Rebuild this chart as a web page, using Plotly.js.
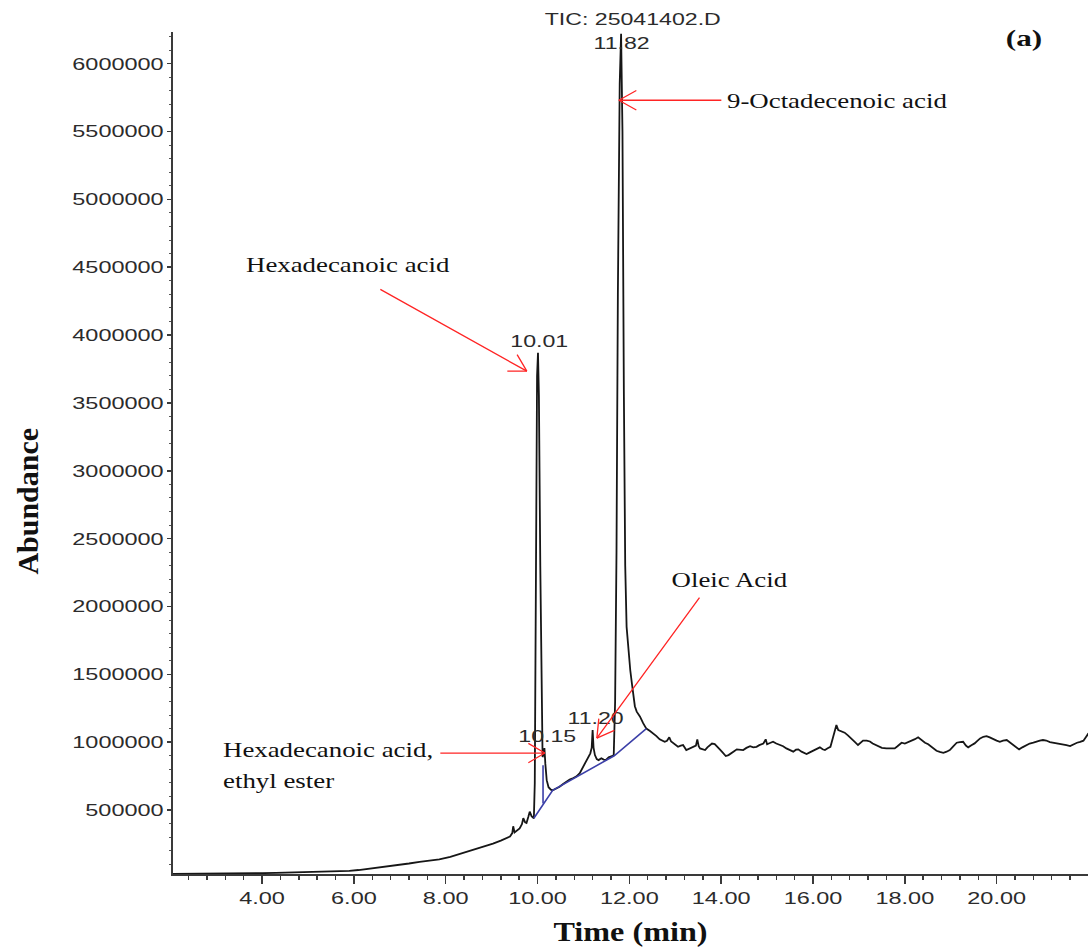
<!DOCTYPE html>
<html>
<head>
<meta charset="utf-8">
<script src="https://cdn.plot.ly/plotly-3.0.1.min.js"></script>
<style>
  html, body { margin: 0; padding: 0; background: #fff; }
  #chart { width: 1088px; height: 950px; }
</style>
</head>
<body>
<div id="chart"></div>
<script>
// Total ion chromatogram: retention time (min) and abundance of each point
const retentionTime = [
  2.06, 2.4, 2.8, 3.2, 3.6, 4.0, 4.3, 4.6, 4.9, 5.0, 5.3, 5.6, 5.9, 6.1, 6.3, 6.56, 6.8, 7.0, 7.2, 7.43,
  7.6, 7.86, 8.1, 8.3, 8.5, 8.67, 8.85, 9.03, 9.2, 9.4, 9.45, 9.47, 9.5, 9.61, 9.66, 9.69, 9.73, 9.76, 9.8, 9.83,
  9.87, 9.92, 9.94, 9.96, 9.99, 10.01, 10.03, 10.06, 10.09, 10.11, 10.13, 10.15, 10.17, 10.2, 10.24, 10.29, 10.33, 10.4, 10.48, 10.55,
  10.63, 10.7, 10.78, 10.85, 10.92, 10.97, 11.03, 11.1, 11.15, 11.18, 11.2, 11.22, 11.25, 11.29, 11.33, 11.39, 11.44, 11.49, 11.55, 11.62,
  11.66, 11.69, 11.72, 11.75, 11.79, 11.82, 11.85, 11.88, 11.91, 11.94, 11.97, 11.99, 12.02, 12.06, 12.09, 12.12, 12.16, 12.23, 12.3, 12.37,
  12.45, 12.52, 12.59, 12.66, 12.72, 12.77, 12.82, 12.87, 12.91, 12.95, 13.01, 13.06, 13.12, 13.17, 13.24, 13.31, 13.39, 13.45, 13.48, 13.51,
  13.54, 13.6, 13.65, 13.7, 13.75, 13.8, 13.86, 13.92, 13.97, 14.03, 14.1, 14.16, 14.23, 14.29, 14.34, 14.41, 14.48, 14.55, 14.63, 14.7,
  14.77, 14.83, 14.88, 14.92, 14.97, 15.0, 15.05, 15.13, 15.2, 15.28, 15.35, 15.42, 15.5, 15.57, 15.63, 15.68, 15.75, 15.81, 15.86, 15.93,
  16.0, 16.08, 16.15, 16.21, 16.26, 16.32, 16.38, 16.44, 16.51, 16.55, 16.59, 16.64, 16.69, 16.76, 16.84, 16.91, 16.98, 17.04, 17.09, 17.17,
  17.24, 17.3, 17.37, 17.42, 17.5, 17.6, 17.7, 17.78, 17.84, 17.93, 18.0, 18.08, 18.15, 18.22, 18.29, 18.36, 18.44, 18.51, 18.58, 18.64,
  18.69, 18.76, 18.84, 18.91, 18.98, 19.05, 19.13, 19.2, 19.27, 19.33, 19.38, 19.45, 19.52, 19.58, 19.64, 19.71, 19.78, 19.85, 19.93, 20.0,
  20.07, 20.14, 20.22, 20.29, 20.36, 20.43, 20.49, 20.56, 20.64, 20.72, 20.8, 20.87, 20.94, 21.01, 21.08, 21.16, 21.23, 21.31, 21.38, 21.45,
  21.52, 21.6, 21.67, 21.75, 21.82, 21.89, 21.95, 22.0
];
const abundance = [
  30000, 30000, 31000, 32000, 33000, 35000, 37000, 39000, 45000, 43000, 46000, 48000, 52000, 58000, 66000, 80000, 86000, 95000, 106000, 118000,
  126000, 137000, 155000, 176000, 192000, 211000, 228000, 252000, 275000, 305000, 330000, 380000, 335000, 365000, 395000, 440000, 410000, 405000, 450000, 488000,
  455000, 439000, 700000, 2300000, 3700000, 3870000, 3550000, 2300000, 1150000, 890000, 910000, 957000, 840000, 720000, 668000, 650000, 645000, 655000, 672000, 690000,
  712000, 725000, 736000, 748000, 772000, 805000, 845000, 893000, 918000, 960000, 1089000, 960000, 905000, 875000, 868000, 882000, 872000, 870000, 888000, 897000,
  905000, 1300000, 2400000, 4300000, 5850000, 6220000, 5500000, 3600000, 2300000, 1850000, 1700000, 1630000, 1530000, 1420000, 1350000, 1265000, 1225000, 1190000, 1140000, 1100000,
  1082000, 1065000, 1045000, 1021000, 1010000, 1003000, 1010000, 1036000, 1005000, 996000, 980000, 966000, 975000, 979000, 942000, 952000, 966000, 975000, 1021000, 970000,
  954000, 945000, 942000, 962000, 979000, 990000, 986000, 968000, 947000, 925000, 898000, 905000, 918000, 935000, 947000, 945000, 942000, 958000, 971000, 962000,
  966000, 978000, 986000, 990000, 1021000, 985000, 992000, 1003000, 990000, 979000, 970000, 954000, 940000, 930000, 945000, 947000, 930000, 922000, 913000, 925000,
  937000, 955000, 962000, 948000, 942000, 955000, 966000, 1040000, 1126000, 1090000, 1085000, 1078000, 1070000, 1050000, 1028000, 1002000, 979000, 998000, 1011000, 1011000,
  1005000, 990000, 978000, 966000, 958000, 954000, 952000, 954000, 970000, 996000, 990000, 1000000, 1011000, 1022000, 1036000, 1018000, 996000, 985000, 966000, 950000,
  937000, 928000, 922000, 930000, 942000, 968000, 996000, 1000000, 1003000, 975000, 962000, 978000, 991000, 1010000, 1028000, 1040000, 1045000, 1035000, 1021000, 1012000,
  1003000, 1012000, 1016000, 998000, 979000, 960000, 947000, 962000, 979000, 990000, 996000, 1005000, 1011000, 1016000, 1012000, 1000000, 996000, 994000, 990000, 985000,
  978000, 971000, 985000, 996000, 1002000, 1011000, 1040000, 1065000
];

// Integration baselines under the labelled peaks (null separates the drop line)
const baselineTime = [9.92, 10.33, 11.67, 12.37, null, 10.12, 10.12];
const baselineAbundance = [439000, 645000, 900000, 1100000, null, 548000, 830000];

// Retention times printed above the integrated peaks
const peakTimes = [10.01, 10.15, 11.20];
const peakLabels = ['10.01', '10.15', '11.20'];
const mainPeakTime = 11.82;
const mainPeakLabel = '11.82';
const fileLabel = 'TIC: 25041402.D';
const panelLabel = '(a)';

// Compound identifications and the point each arrow marks (time, abundance)
const compoundNames = ['Hexadecanoic acid', '9-Octadecenoic acid', 'Oleic Acid', 'Hexadecanoic acid,', 'ethyl ester'];
const arrowTipTime = [9.767, 11.771, 11.292, 10.159];
const arrowTipAbundance = [3734000, 5730000, 1030000, 920000];

const SANS = 'Liberation Sans, Arial, sans-serif';
const SERIF = 'Liberation Serif, Times New Roman, serif';
const RED = '#ff2424';
const INK = '#2b2b2b';

function abundanceAt(t) {
  const i = retentionTime.indexOf(t);
  return abundance[i];
}

const annotations = [];
const stretch = [];   // horizontal stretch applied to each annotation's text

// Peak retention-time labels
peakTimes.forEach((t, i) => {
  annotations.push({
    x: t, y: abundanceAt(t), xref: 'x', yref: 'y', text: peakLabels[i],
    showarrow: false, xanchor: 'center', yanchor: 'bottom', xshift: i === 0 ? 2 : 3, yshift: 1,
    font: { family: SANS, size: 17, color: INK }, borderpad: 0
  });
  stretch.push(1.36);
});
annotations.push({
  x: mainPeakTime, y: 0.9869, xref: 'x', yref: 'paper', text: mainPeakLabel,
  xanchor: 'center', yanchor: 'middle',
  showarrow: false, font: { family: SANS, size: 17, color: INK }, borderpad: 0
});
stretch.push(1.36);
annotations.push({
  x: 0.5026, y: 1.0143, xref: 'paper', yref: 'paper', text: fileLabel,
  xanchor: 'center', yanchor: 'middle',
  showarrow: false, font: { family: SANS, size: 17, color: INK }, borderpad: 0
});
stretch.push(1.36);
annotations.push({
  x: 0.930, y: 0.9929, xref: 'paper', yref: 'paper', text: '<b>' + panelLabel + '</b>',
  xanchor: 'center', yanchor: 'middle',
  showarrow: false, font: { family: SERIF, size: 24, color: '#111' }, borderpad: 0
});
stretch.push(1.3);

// Compound names
const namePos = [
  { x: 0.0784, y: 0.7233, xanchor: 'left' },
  { x: 0.6042, y: 0.9192, xanchor: 'left' },
  { x: 0.6086, y: 0.3492, xanchor: 'center' },
  { x: 0.0532, y: 0.1473, xanchor: 'left' },
  { x: 0.0532, y: 0.1116, xanchor: 'left' }
];
compoundNames.forEach((name, i) => {
  annotations.push({
    x: namePos[i].x, y: namePos[i].y, xref: 'paper', yref: 'paper', text: name,
    xanchor: namePos[i].xanchor, yanchor: 'middle', showarrow: false, borderpad: 0,
    font: { family: SERIF, size: 22, color: '#111' }
  });
  stretch.push(1.22);
});

// Red pointer arrows: a shaft plus two open head strokes (pixel offsets from the tip)
const arrowShape = [
  { tail: [-147, -82], arms: [[-20, 0], [-10, -17]] },
  { tail: [103, 0], arms: [[18, -10], [18, 10]] },
  { tail: [103, -141], arms: [[18, -8], [2, -20]] },
  { tail: [-105, 0], arms: [[-17, -10], [-17, 10]] }
];
arrowShape.forEach((a, i) => {
  [a.tail].concat(a.arms).forEach(off => {
    annotations.push({
      x: arrowTipTime[i], y: arrowTipAbundance[i], xref: 'x', yref: 'y',
      ax: off[0], ay: off[1], text: '', showarrow: true, arrowhead: 0,
      arrowwidth: 1.3, arrowcolor: RED, borderpad: 0, standoff: 0
    });
    stretch.push(0);
  });
});

// Vertical axis title
annotations.push({
  x: -0.1589, y: 0.443, xref: 'paper', yref: 'paper', text: '<b>Abundance</b>',
  xanchor: 'center', yanchor: 'middle',
  textangle: -90, showarrow: false, borderpad: 0,
  font: { family: SERIF, size: 30, color: '#111' }
});
stretch.push(0);

const traces = [
  {
    x: retentionTime, y: abundance, type: 'scatter', mode: 'lines',
    line: { color: '#161616', width: 1.8 }, hoverinfo: 'skip'
  },
  {
    x: baselineTime, y: baselineAbundance, type: 'scatter', mode: 'lines',
    line: { color: '#3b3fa8', width: 1.6 }, connectgaps: false, hoverinfo: 'skip'
  }
];

const layout = {
  width: 1088, height: 950,
  margin: { l: 173, r: 0, t: 32, b: 76 },
  paper_bgcolor: '#fff', plot_bgcolor: '#fff',
  showlegend: false,
  xaxis: {
    range: [2.06, 21.99], showgrid: false, zeroline: false,
    showline: true, linecolor: '#3a3a3a', linewidth: 2,
    ticks: 'outside', ticklen: 8, tickwidth: 1.5, tickcolor: '#3a3a3a',
    tick0: 0, dtick: 2, tickformat: '.2f',
    minor: { dtick: 0.4, tick0: 0, ticks: 'outside', ticklen: 4, tickwidth: 1.5, tickcolor: '#3a3a3a', showgrid: false },
    tickfont: { family: SANS, size: 17, color: INK },
    title: { text: '<b>Time (min)</b>', font: { family: SERIF, size: 28, color: '#111' }, standoff: 14 }
  },
  yaxis: {
    range: [28700, 6233000], showgrid: false, zeroline: false,
    showline: true, linecolor: '#3a3a3a', linewidth: 2,
    ticks: 'outside', ticklen: 4, tickwidth: 1.5, tickcolor: '#3a3a3a',
    tick0: 0, dtick: 500000, tickformat: 'd',
    minor: { dtick: 100000, tick0: 0, ticks: 'outside', ticklen: 2, tickwidth: 1, tickcolor: '#555', showgrid: false },
    tickfont: { family: SANS, size: 17, color: INK }
  },
  annotations: annotations
};

// Widen a text element's glyphs horizontally, keeping the chosen edge in place
function widen(el, factor, keep) {
  if (!factor || factor === 1) return;
  const w = el.getComputedTextLength();
  if (!w) return;
  const b0 = el.getBBox();
  el.setAttribute('textLength', (w * factor).toFixed(1));
  el.setAttribute('lengthAdjust', 'spacingAndGlyphs');
  const b1 = el.getBBox();
  let dx = 0;
  if (keep === 'left') dx = b0.x - b1.x;
  else if (keep === 'right') dx = (b0.x + b0.width) - (b1.x + b1.width);
  else dx = (b0.x + b0.width / 2) - (b1.x + b1.width / 2);
  if (Math.abs(dx) > 0.05) {
    el.setAttribute('x', (parseFloat(el.getAttribute('x') || '0') + dx).toFixed(2));
  }
}

Plotly.newPlot('chart', traces, layout, { staticPlot: true, displayModeBar: false }).then(gd => {
  gd.querySelectorAll('.xtick text').forEach(t => widen(t, 1.38, 'center'));
  gd.querySelectorAll('.ytick text').forEach(t => widen(t, 1.38, 'right'));
  gd.querySelectorAll('text.xtitle').forEach(t => widen(t, 1.15, 'center'));
  gd.querySelectorAll('g.annotation').forEach(g => {
    const idx = +g.getAttribute('data-index');
    const t = g.querySelector('text.annotation-text');
    const a = annotations[idx];
    if (t && a) widen(t, stretch[idx], a.xanchor === 'left' ? 'left' : a.xanchor === 'right' ? 'right' : 'center');
  });
});
</script>
</body>
</html>
